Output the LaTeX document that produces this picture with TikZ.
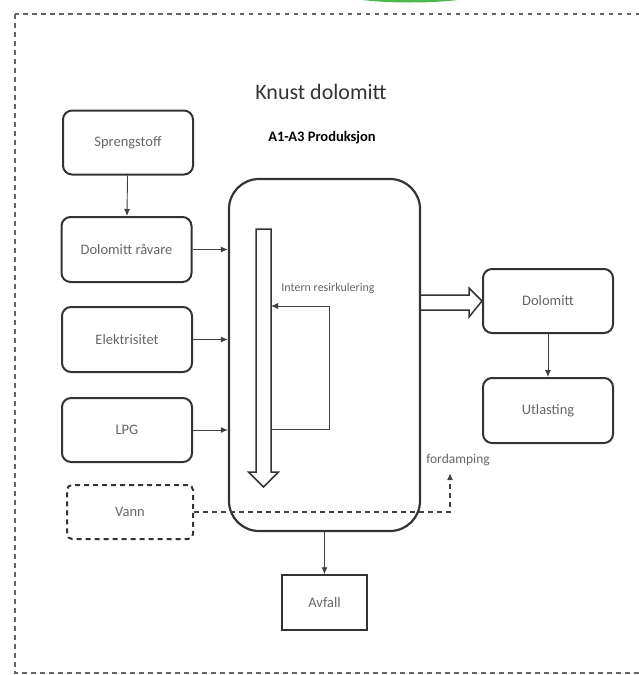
\documentclass[tikz,border=0pt]{standalone}
\usepackage{fontspec}
\setmainfont{Carlito}
\usetikzlibrary{arrows.meta, positioning}
\tikzset{
  boks/.style={draw=black!80, line width=2pt, rounded corners=9pt, minimum width=130pt, minimum height=64pt, inner sep=0pt, text=black!60, font=\fontsize{14.5}{17}\selectfont},
  pil/.style={-{Latex[length=7pt,width=6pt]}, line width=0.9pt, draw=black!75},
  hul/.style={draw=black!80, line width=1.5pt, line join=miter},
  ramme/.style={draw=black!60, line width=2.5pt, dash pattern=on 4.5pt off 4.5pt},
  stiplet/.style={dash pattern=on 5pt off 4pt}
}

\begin{document}
\begin{tikzpicture}[x=1pt, y=-1pt]
            \useasboundingbox (0,0) rectangle (639,675);
            \begin{scope}
                \clip (0,0) rectangle (639,2.5);
                \fill[green!60!black!70] (410,-10) ellipse (80 and 12.5);
            \end{scope}
            \draw[ramme] (15,14) rectangle (645,673);

            \node (tittel) at (321,92) [text=black!80, font=\fontsize{22}{26}\selectfont] {Knust dolomitt};
            \node (fase) at (322,138) [font=\bfseries\fontsize{14.5}{17}\selectfont] {A1-A3 Produksjon};

            \node (spreng) at (128,142.5) [boks] {Sprengstoff};
            \node (raa) at (126.5,249.5) [boks, minimum height=65pt] {Dolomitt råvare};
            \node (el) at (127,339.5) [boks, minimum height=65pt] {Elektrisitet};
            \node (lpg) at (127,430) [boks] {LPG};
            \node (vann) at (130,512) [boks, stiplet, rounded corners=5pt, minimum width=126pt, minimum height=54pt] {Vann};
            \node (prod) at (324.5,355) [boks, line width=2.2pt, rounded corners=30pt, minimum width=191pt, minimum height=352pt] {};
            \node (dol) at (548,301) [boks] {Dolomitt};
            \node (utl) at (548,410.5) [boks, minimum height=65pt] {Utlasting};
            \node (avfall) at (324.5,602.5) [boks, rounded corners=0pt, line width=1.5pt, minimum width=85pt, minimum height=55pt] {Avfall};

            \coordinate (sirk ut) at (271,429);
            \coordinate (sirk inn) at (271,306);
            \coordinate (damp) at (450,473);
            \node (sirk tekst) at (328,288) [text=black!60, font=\fontsize{12}{14}\selectfont] {Intern resirkulering};
            \node (damp tekst) at (458,460) [text=black!60, font=\fontsize{13.5}{16}\selectfont] {fordamping};

            \path   (spreng) edge[pil] (raa)
                    (raa.east) edge[pil] (raa.east -| prod.west)
                    (el.east) edge[pil] (el.east -| prod.west)
                    (lpg.east) edge[pil] (lpg.east -| prod.west)
                    (prod) edge[pil] (avfall)
                    (dol) edge[pil] (utl);
            \draw[pil] (sirk ut) -- ++(58,0) |- (sirk inn);
            \draw[pil, stiplet, line width=1.8pt] (vann.east) -| (damp);

            % hule piler
            \draw[hul] (256,229) -- (271,229) -- (271,472) -- (278.5,472) -- (263.5,487) -- (248.5,472) -- (256,472) -- cycle;
            \draw[hul] (prod.east |- 0,295) -- (469,295) -- (469,288) -- (dol.west) -- (469,317) -- (469,310) -- (prod.east |- 0,310);

        \end{tikzpicture}
\end{document}
